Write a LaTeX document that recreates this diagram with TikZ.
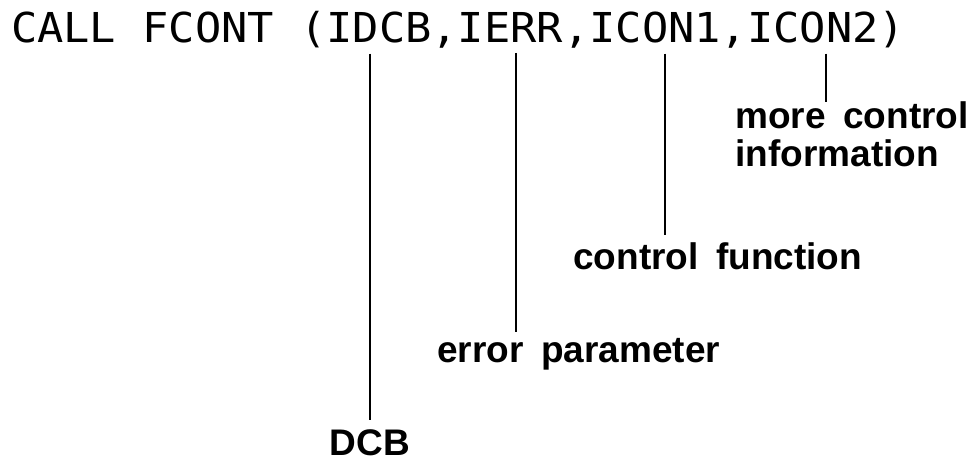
\documentclass[tikz,border=0pt]{standalone}
\usepackage{fontspec}
\usepackage{tikz}
\usetikzlibrary{positioning}
\newfontfamily\plotfont{DejaVu Sans Mono}
\newfontfamily\labelfont{Liberation Sans}[WordSpace=1.7]
\newcommand{\plotwide}[1]{\scalebox{1.06}[1]{#1}}

\begin{document}
\begin{tikzpicture}[
  x=0.5pt, y=-0.5pt,
  call/.style={inner sep=0pt, outer sep=0pt, anchor=base west,
               font=\plotfont\fontsize{20.6}{24}\selectfont},
  lbl/.style={inner sep=0pt, anchor=base west, align=left,
              font=\labelfont\bfseries\fontsize{18.5}{19}\selectfont},
  lead/.style={line width=1.1pt, shorten <=5pt},
]
\useasboundingbox (0,0) rectangle (976,460);

%% Statement, one node per argument
\node[call] (head) at (11,43) {\plotwide{CALL FCONT (}};
\node[call] (idcb) at (head.base east) {\plotwide{IDCB}};
\node[call] (c1) at (idcb.base east) {\plotwide{,}};
\node[call] (ierr) at (c1.base east) {\plotwide{IERR}};
\node[call] (c2) at (ierr.base east) {\plotwide{,}};
\node[call] (icon1) at (c2.base east) {\plotwide{ICON1}};
\node[call] (c3) at (icon1.base east) {\plotwide{,}};
\node[call] (icon2) at (c3.base east) {\plotwide{ICON2}};
\node[call] (tail) at (icon2.base east) {\plotwide{)}};

%% Meanings
\node[lbl, anchor=base] (dcb) at (370,455) {DCB};
\node[lbl] (errpar) at (437,363) {error parameter};
\node[lbl] (ctrlfn) at (573,270) {control function};
\node[lbl, anchor=north west] (moreinfo) at (735,101) {more control\\information};

%% Leaders
\coordinate (dcbfoot) at (370,420);
\coordinate (errfoot) at (516,332);
\coordinate (ctrlfoot) at (665,235);
\coordinate (morefoot) at (826,102);
\draw[lead] (idcb.south -| dcbfoot) -- (dcbfoot);
\draw[lead] (ierr.south -| errfoot) -- (errfoot);
\draw[lead] (icon1.south -| ctrlfoot) -- (ctrlfoot);
\draw[lead] (icon2.south -| morefoot) -- (morefoot);

\end{tikzpicture}
\end{document}
